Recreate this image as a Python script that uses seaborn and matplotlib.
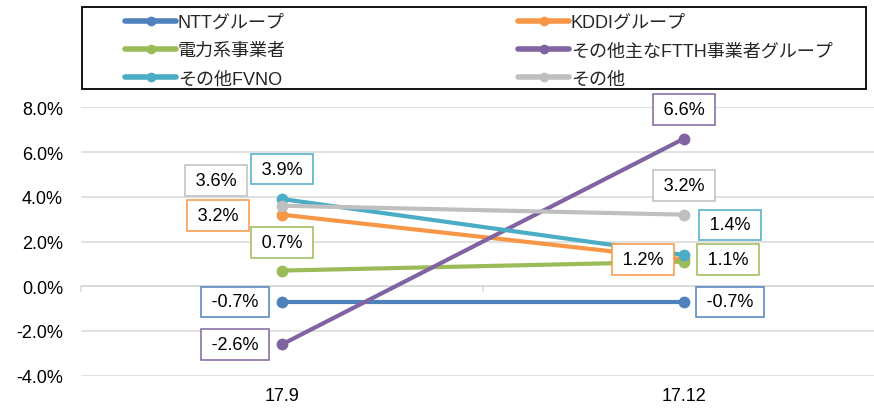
import matplotlib
matplotlib.use("Agg")
import matplotlib.pyplot as plt
from matplotlib.patches import Rectangle
from matplotlib.ticker import FuncFormatter, FixedLocator
import pandas as pd
import seaborn as sns

# 期間
periods = ["17.9", "17.12"]

# 系列名
series_names = [
    "NTTグループ",
    "KDDIグループ",
    "電力系事業者",
    "その他主なFTTH事業者グループ",
    "その他FVNO",
    "その他",
]

# 各系列の値（%）
ntt = [-0.7, -0.7]
kddi = [3.2, 1.2]
denryoku = [0.7, 1.1]
ftth_other = [-2.6, 6.6]
fvno = [3.9, 1.4]
others = [3.6, 3.2]

series_values = [ntt, kddi, denryoku, ftth_other, fvno, others]

colors = ["#4F81BD", "#F79646", "#9BBB59", "#8064A2", "#4BACC6", "#BFBFBF"]

# データラベルの位置（点からのずれ, px）
label_offsets = [
    [(-47, 0), (46, 0)],
    [(-64, -1), (-41, 0)],
    [(0, 28), (44, 2)],
    [(-47, 0), (0, 29)],
    [(0, 30), (46, 30)],
    [(-66, 25), (0, 29)],
]

sns.set_theme(style="white")
plt.rcParams["font.family"] = ["Liberation Sans", "Noto Sans CJK JP", "DejaVu Sans"]

FS = 13

rows = []
for name, vals in zip(series_names, series_values):
    for i, v in enumerate(vals):
        rows.append({"期間": i, "系列": name, "値": v})
df = pd.DataFrame(rows)

W, H = 874, 410
fig = plt.figure(figsize=(W / 100, H / 100), dpi=100)
ax = fig.add_axes([81 / W, (H - 376.7) / H, 804 / W, 268.4 / H])

sns.lineplot(
    data=df, x="期間", y="値", hue="系列", hue_order=series_names,
    palette=colors, marker="o", markersize=8.5, markeredgewidth=0,
    linewidth=3, ax=ax, legend=True, sort=False, zorder=3,
)

ax.set_xlim(-0.5, len(periods) - 0.5)
ax.set_ylim(-4, 8)
ax.set_xticks(range(len(periods)))
ax.set_xticklabels(periods)
ax.set_yticks([-4, -2, 0, 2, 4, 6, 8])
ax.yaxis.set_major_formatter(FuncFormatter(lambda v, _: f"{v:.1f}%"))
ax.set_xlabel("")
ax.set_ylabel("")
ax.grid(axis="y", color="#D9D9D9", linewidth=1.1, zorder=0)
ax.grid(axis="x", visible=False)
for s in ax.spines.values():
    s.set_visible(False)
ax.tick_params(axis="both", length=0, labelsize=FS, colors="black")
ax.tick_params(axis="y", pad=13)
ax.tick_params(axis="x", pad=8)

# 横軸（0%の位置）と目盛り
sec = ax.secondary_xaxis(1 / 3)
sec.xaxis.set_major_locator(FixedLocator([-0.5, 0.5, 1.5]))
sec.tick_params(axis="x", direction="out", length=4, width=1.1,
                color="#D9D9D9", labelbottom=False, labeltop=False)
sec.spines["bottom"].set_color("#D9D9D9")
sec.spines["bottom"].set_linewidth(1.1)
for k in ("top", "left", "right"):
    sec.spines[k].set_visible(False)

# データラベル
for vals, offs, c in zip(series_values, label_offsets, colors):
    for i, (v, (dx, dy)) in enumerate(zip(vals, offs)):
        ax.annotate(
            f"\u2009{v:.1f}%\u2009", xy=(i, v), xytext=(dx, dy),
            textcoords="offset pixels", ha="center", va="center",
            fontsize=FS, color="black", zorder=10,
            bbox=dict(boxstyle="square,pad=0.38", facecolor="white",
                      edgecolor=c, linewidth=1.1),
        )

# 凡例（2列）
handles, labels = ax.get_legend_handles_labels()
ax.get_legend().remove()
for h in handles:
    h.set_linewidth(4)
    h.set_markersize(7)

legend_kw = dict(
    loc="upper left", frameon=False, fontsize=FS, handlelength=2.85,
    handletextpad=0.08, labelspacing=0.62, borderpad=0, borderaxespad=0,
)
for col, x0 in ((0, 125), (1, 518)):
    idx = [col, col + 2, col + 4]
    fig.legend([handles[i] for i in idx], [labels[i] for i in idx],
               bbox_to_anchor=(x0 / W, 1 - 15 / H), **legend_kw)

fig.add_artist(Rectangle((82 / W, 1 - 90 / H), 784 / W, 82 / H,
                         transform=fig.transFigure, fill=False,
                         edgecolor="black", linewidth=1.3))

fig.savefig("out.png", dpi=100)
